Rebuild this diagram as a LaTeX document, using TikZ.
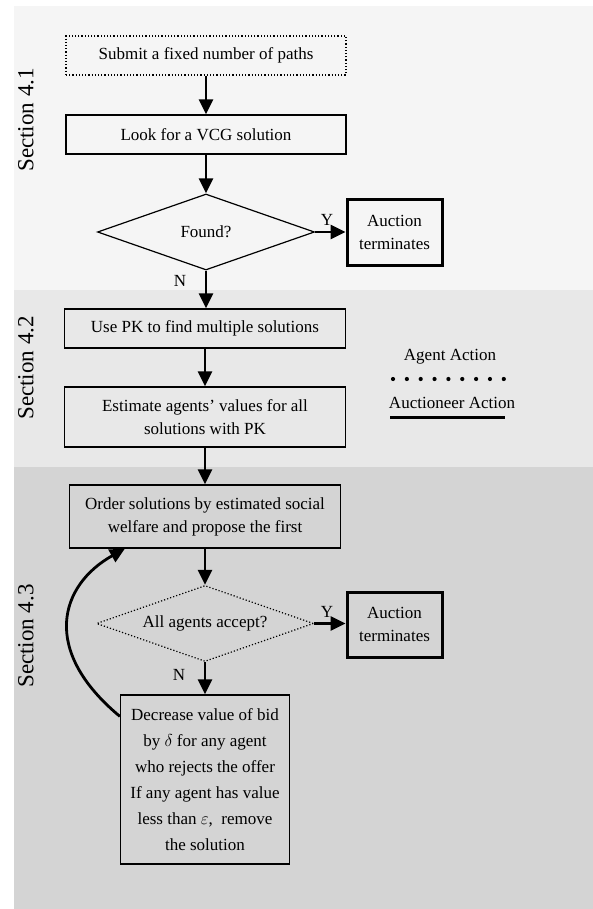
\documentclass[tikz,border=0pt]{standalone}
\usepackage{fontspec}
\setmainfont{Liberation Serif}
\usetikzlibrary{shapes.geometric,arrows.meta}
\begin{document}
\begin{tikzpicture}[x=1pt,y=-1pt,
  txt/.style={font=\fontsize{17}{23}\selectfont},
  box/.style={txt, draw, line width=1.2pt, inner sep=0pt, align=center},
  agentbox/.style={box, dotted},
  termbox/.style={box, line width=3pt, minimum width=95pt, minimum height=65pt},
  decide/.style={txt, diamond, aspect=2.86, draw, line width=1.2pt, inner sep=0pt, minimum width=217pt, minimum height=76pt},
  arr/.style={line width=2.8pt, -{Triangle[length=15pt,width=14pt]}},
  seclabel/.style={font=\fontsize{23}{23}\selectfont, rotate=90},
  lbl/.style={txt, inner sep=0pt}]
\useasboundingbox (0,0) rectangle (593,909);
% backgrounds
\fill[white] (0,0) rectangle (593,909);
\fill[black!4] (14,6) rectangle (593,290);
\fill[black!9] (14,290) rectangle (593,467);
\fill[black!17] (14,467) rectangle (593,909);
% section labels
\node[seclabel] (s1) at (26,120) {Section 4.1};
\node[seclabel] (s2) at (26,368) {Section 4.2};
\node[seclabel] (s3) at (26,636) {Section 4.3};
% nodes
\node[agentbox, minimum width=280pt, minimum height=39pt] (submit) at (206,55.5) {Submit a fixed number of paths};
\node[box, minimum width=280pt, minimum height=39pt] (look) at (206,134.5) {Look for a VCG solution};
\node[decide] (found) at (206,232) {Found?};
\node[termbox] (term1) at (394.5,232.5) {Auction\\terminates};
\node[box, minimum width=281pt, minimum height=39pt] (usepk) at (205,328.5) {Use PK to find multiple solutions};
\node[box, minimum width=281pt, minimum height=60pt] (estimate) at (205,417) {Estimate agents’ values for all\\solutions with PK};
\node[box, minimum width=271pt, minimum height=63pt] (order) at (205,516.5) {Order solutions by estimated social\\welfare and propose the first};
\node[decide, dotted] (accept) at (205,623.5) {All agents accept?};
\node[termbox] (term2) at (394.5,624.5) {Auction\\terminates};
\node[box, minimum width=169pt, minimum height=169pt, font=\fontsize{17}{26}\selectfont] (decrease) at (205,779.5) {Decrease value of bid\\by $\delta$ for any agent\\who rejects the offer\\If any agent has value\\less than $\varepsilon$,\ \ remove\\the solution};
% labels
\node[lbl] (y1) at (327,220) {Y};
\node[lbl] (n1) at (180,281) {N};
\node[lbl] (y2) at (327,612) {Y};
\node[lbl] (n2) at (179,675) {N};
% legend
\node[lbl] (agent) at (450,357) {Agent Action};
\coordinate (d1) at (393,379);
\coordinate (d2) at (504,379);
\draw[line width=4.2pt, line cap=round, dash pattern=on 0pt off 13.85pt] (d1) -- (d2);
\node[lbl] (auct) at (452,403) {Auctioneer Action};
\coordinate (l1) at (390,417);
\coordinate (l2) at (505,417);
\draw[line width=3pt] (l1) -- (l2);
% arrows
\draw[arr] (submit) -- (look);
\draw[arr] (look) -- (found);
\draw[arr] (found.east) -- (found.east -| term1.west);
\draw[arr] (found) -- (found |- usepk.north);
\draw[arr] (usepk) -- (estimate);
\draw[arr] (estimate) -- (order);
\draw[arr] (order) -- (accept);
\draw[arr] (accept.east) -- (accept.east -| term2.west);
\draw[arr] (accept) -- (decrease);
\draw[arr] ([yshift=-22pt]decrease.north west) .. controls (40,650) and (60,585) .. ([xshift=56pt]order.south west);
\end{tikzpicture}
\end{document}
